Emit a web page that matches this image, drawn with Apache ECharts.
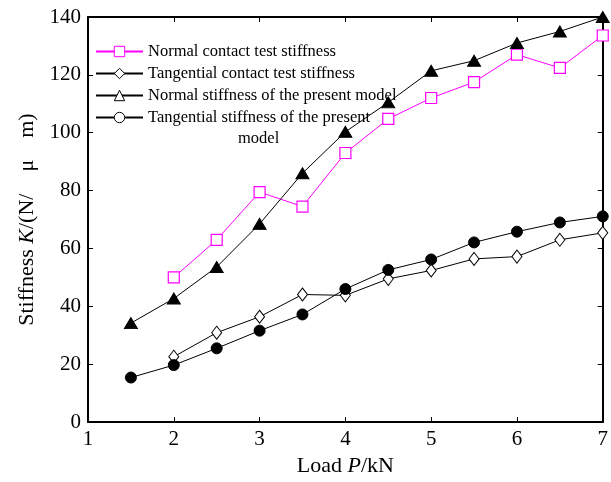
<!DOCTYPE html>
<html>
<head>
<meta charset="utf-8">
<script src="https://cdn.jsdelivr.net/npm/echarts@6/dist/echarts.min.js"></script>
<style>html,body{margin:0;padding:0;background:#fff}#c{width:611px;height:482px}</style>
</head>
<body>
<div id="c"></div>
<script>
var loadModel = [1.5, 2, 2.5, 3, 3.5, 4, 4.5, 5, 5.5, 6, 6.5, 7];
var loadTest = [2, 2.5, 3, 3.5, 4, 4.5, 5, 5.5, 6, 6.5, 7];
var normalTest = [50, 63, 79.5, 74.5, 93, 104.8, 112, 117.5, 127, 122.4, 133.6];
var tangentialTest = [22.6, 30.9, 36.4, 44.1, 43.8, 49.5, 52.4, 56.4, 57.2, 63, 65.4];
var normalModel = [34.2, 42.7, 53.6, 68.5, 86, 100.3, 110.5, 121.4, 124.9, 131, 135, 140];
var tangentialModel = [15.4, 19.7, 25.5, 31.6, 37.2, 46, 52.6, 56.2, 62.1, 65.8, 69, 71.1];
var seriesNames = ['Normal contact test stiffness', 'Tangential contact test stiffness', 'Normal stiffness of the present model', 'Tangential stiffness of the present'];
var xTicks = [1, 7, 1];
var yTicks = [0, 140, 20];

function pairs(xs, ys) { return xs.map(function (x, i) { return [x, ys[i]]; }); }

var FONT = 'Liberation Serif';
var chart = echarts.init(document.getElementById('c'));
var axisLine = { show: true, onZero: false, lineStyle: { color: '#000', width: 2 } };
var tick = { show: true, inside: true, length: 5, lineStyle: { color: '#000', width: 1 } };

chart.setOption({
  animation: false,
  backgroundColor: '#fff',
  grid: { left: 88, top: 17, right: 5, bottom: 58, containLabel: false },
  xAxis: [{
    type: 'value', min: xTicks[0], max: xTicks[1], interval: xTicks[2],
    axisLine: axisLine, axisTick: tick, splitLine: { show: false },
    axisLabel: { color: '#000', fontFamily: FONT, fontSize: 21, margin: 7 },
    name: '{a|Load }{b|P}{a|/kN}', nameLocation: 'middle', nameGap: 30,
    nameTextStyle: { rich: {
      a: { fontFamily: FONT, fontSize: 22, color: '#000' },
      b: { fontFamily: FONT, fontSize: 22, color: '#000', fontStyle: 'italic' } } }
  }, {
    type: 'value', position: 'top', min: xTicks[0], max: xTicks[1], interval: xTicks[2],
    axisLine: axisLine, axisTick: tick, axisLabel: { show: false }, splitLine: { show: false }
  }],
  yAxis: [{
    type: 'value', min: yTicks[0], max: yTicks[1], interval: yTicks[2],
    axisLine: axisLine, axisTick: tick, splitLine: { show: false },
    axisLabel: { color: '#000', fontFamily: FONT, fontSize: 21, margin: 7 },
    name: '{a|Stiffness }{b|K}{a|/(N/\u2003μ\u2003m)}', nameLocation: 'middle', nameGap: 50,
    nameTextStyle: { rich: {
      a: { fontFamily: FONT, fontSize: 22, color: '#000' },
      b: { fontFamily: FONT, fontSize: 22, color: '#000', fontStyle: 'italic' } } }
  }, {
    type: 'value', position: 'right', min: yTicks[0], max: yTicks[1], interval: yTicks[2],
    axisLine: axisLine, axisTick: tick, axisLabel: { show: false }, splitLine: { show: false }
  }],
  legend: {
    orient: 'vertical', left: 95, top: 43, padding: 0, itemWidth: 47, itemHeight: 13, itemGap: 5,
    textStyle: { fontFamily: FONT, fontSize: 16.5, color: '#000' },
    data: [
      { name: seriesNames[0], itemStyle: { color: '#fff', borderColor: '#ff00ff', borderWidth: 1 } },
      { name: seriesNames[1], itemStyle: { color: '#fff', borderColor: '#000', borderWidth: 1 } },
      { name: seriesNames[2], itemStyle: { color: '#fff', borderColor: '#000', borderWidth: 1 } },
      { name: seriesNames[3], itemStyle: { color: '#fff', borderColor: '#000', borderWidth: 1 } }
    ]
  },
  graphic: [{
    type: 'text', left: 238, top: 130,
    style: { text: 'model', font: '16.5px "Liberation Serif"', fill: '#000' }
  }],
  series: [{
    name: seriesNames[0], type: 'line', data: pairs(loadTest, normalTest),
    symbol: 'rect', symbolSize: 11, showAllSymbol: true,
    lineStyle: { color: '#ff00ff', width: 1 },
    itemStyle: { color: '#fff', borderColor: '#ff00ff', borderWidth: 1.2 }, z: 3
  }, {
    name: seriesNames[1], type: 'line', data: pairs(loadTest, tangentialTest),
    symbol: 'diamond', symbolSize: [10, 13], showAllSymbol: true,
    lineStyle: { color: '#000', width: 1 },
    itemStyle: { color: '#fff', borderColor: '#000', borderWidth: 1 }, z: 3
  }, {
    name: seriesNames[2], type: 'line', data: pairs(loadModel, normalModel),
    symbol: 'triangle', symbolSize: [13, 11], showAllSymbol: true,
    lineStyle: { color: '#000', width: 1 },
    itemStyle: { color: '#000', borderColor: '#000', borderWidth: 1 }, z: 3
  }, {
    name: seriesNames[3], type: 'line', data: pairs(loadModel, tangentialModel),
    symbol: 'circle', symbolSize: 11, showAllSymbol: true,
    lineStyle: { color: '#000', width: 1 },
    itemStyle: { color: '#000', borderColor: '#000', borderWidth: 1 }, z: 3
  }]
});
</script>
</body>
</html>
